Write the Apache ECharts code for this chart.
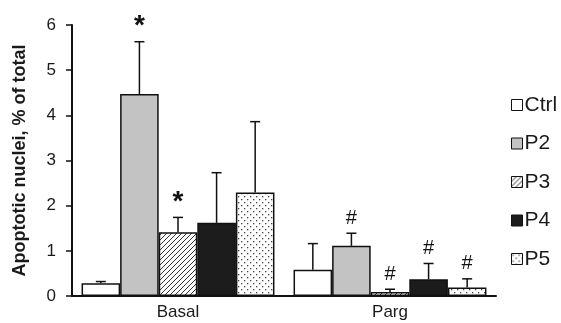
<!DOCTYPE html>
<html><head><meta charset="utf-8">
<script src="https://cdn.jsdelivr.net/npm/echarts@6/dist/echarts.min.js"></script>
<style>html,body{margin:0;padding:0;background:#fff}#c{width:561px;height:323px}</style>
</head><body><div id="c"></div>
<script>
// ---- data ----
const categories = ['Basal', 'Parg'];
const seriesNames = ['Ctrl', 'P2', 'P3', 'P4', 'P5'];
const ctrlMean = [0.28, 0.58];
const p2Mean   = [4.47, 1.11];
const p3Mean   = [1.41, 0.09];
const p4Mean   = [1.62, 0.37];
const p5Mean   = [2.29, 0.19];
const ctrlErr = [0.04, 0.58];
const p2Err   = [1.16, 0.28];
const p3Err   = [0.33, 0.06];
const p4Err   = [1.11, 0.35];
const p5Err   = [1.57, 0.19];
const ctrlMark = ['', ''];
const p2Mark   = ['*', '#'];
const p3Mark   = ['*', '#'];
const p4Mark   = ['', '#'];
const p5Mark   = ['', '#'];
const yTicks = [0, 1, 2, 3, 4, 5, 6];

const means = [ctrlMean, p2Mean, p3Mean, p4Mean, p5Mean];
const errs = [ctrlErr, p2Err, p3Err, p4Err, p5Err];
const marks = [ctrlMark, p2Mark, p3Mark, p4Mark, p5Mark];

// ---- patterns ----
function hatchPattern() {
  const c = document.createElement('canvas'); c.width = 5; c.height = 5;
  const g = c.getContext('2d');
  g.fillStyle = '#fff'; g.fillRect(0, 0, 5, 5);
  g.strokeStyle = '#333'; g.lineWidth = 1;
  g.beginPath();
  g.moveTo(-1, 6); g.lineTo(6, -1);
  g.moveTo(-1, 1); g.lineTo(1, -1);
  g.moveTo(4, 6); g.lineTo(6, 4);
  g.stroke();
  return c;
}
function dotPattern() {
  const c = document.createElement('canvas'); c.width = 6; c.height = 6;
  const g = c.getContext('2d');
  g.fillStyle = '#fff'; g.fillRect(0, 0, 6, 6);
  g.fillStyle = '#444';
  g.fillRect(1, 1, 1.3, 1.3);
  g.fillRect(4, 4, 1.3, 1.3);
  return c;
}
const fills = [
  '#ffffff',
  '#c3c3c3',
  { image: hatchPattern(), repeat: 'repeat' },
  '#1c1c1c',
  { image: dotPattern(), repeat: 'repeat' }
];

const GAP = 0.09;
const FONT = '"Liberation Sans", Arial, sans-serif';
const barSeries = seriesNames.map((name, i) => ({
  name: name,
  type: 'bar',
  data: means[i],
  barGap: 0,
  barCategoryGap: (GAP * 100) + '%',
  itemStyle: { color: fills[i], borderColor: '#111', borderWidth: 1.5 },
  emphasis: { disabled: true },
  z: 2
}));

const errData = [];
seriesNames.forEach((n, s) => {
  categories.forEach((c, k) => {
    errData.push([k, s, means[s][k], errs[s][k], marks[s][k]]);
  });
});

const errSeries = {
  type: 'custom',
  name: 'err',
  data: errData,
  encode: { x: 0, y: 2 },
  z: 5,
  silent: true,
  renderItem: function (params, api) {
    const cat = api.value(0), s = api.value(1), m = api.value(2), e = api.value(3);
    const mark = errData[params.dataIndex][4];
    const catW = api.size([1, 0])[0];
    const groupW = catW * (1 - GAP);
    const bw = groupW / 5;
    const cx = api.coord([cat, 0])[0] - groupW / 2 + bw * (s + 0.5);
    const y0 = api.coord([cat, m])[1];
    const y1 = api.coord([cat, m + e])[1];
    const st = { stroke: '#111', lineWidth: 1.5 };
    const children = [
      { type: 'line', shape: { x1: cx, y1: y0, x2: cx, y2: y1 }, style: st },
      { type: 'line', shape: { x1: cx - 5, y1: y1, x2: cx + 5, y2: y1 }, style: st }
    ];
    if (mark) {
      const isStar = mark === '*';
      children.push({
        type: 'text',
        style: {
          text: mark, x: cx, y: isStar ? y1 - 1 : y1 - 5,
          align: 'center', verticalAlign: 'bottom',
          fill: '#111',
          font: isStar ? 'bold 28px ' + FONT : '20px ' + FONT
        }
      });
    }
    return { type: 'group', children: children };
  }
};

const chart = echarts.init(document.getElementById('c'), null, { renderer: 'canvas' });
chart.setOption({
  animation: false,
  backgroundColor: '#fff',
  textStyle: { fontFamily: FONT, color: '#1a1a1a' },
  grid: { left: 72, right: 65, top: 25, bottom: 27, containLabel: false },
  legend: {
    data: seriesNames,
    orient: 'vertical',
    left: 506, top: 89,
    itemWidth: 11, itemHeight: 11, itemGap: 16.5,
    icon: 'rect',
    selectedMode: false,
    textStyle: { fontSize: 21, color: '#1a1a1a', padding: [0, 0, 0, -3], lineHeight: 22 },
    itemStyle: { borderColor: '#111', borderWidth: 1 }
  },
  xAxis: {
    type: 'category',
    data: categories,
    axisLine: { lineStyle: { color: '#111', width: 2 } },
    axisTick: { show: false },
    axisLabel: { fontSize: 17, color: '#1a1a1a', margin: 8 }
  },
  yAxis: {
    type: 'value',
    min: yTicks[0], max: yTicks[yTicks.length - 1], interval: 1,
    name: 'Apoptotic nuclei, % of total',
    nameLocation: 'middle',
    nameGap: 43,
    nameTextStyle: { fontSize: 18, fontWeight: 'bold', color: '#1a1a1a' },
    axisLine: { show: true, lineStyle: { color: '#111', width: 2 } },
    axisTick: { show: true, inside: false, length: 6, lineStyle: { color: '#111', width: 1.5 } },
    axisLabel: { fontSize: 17, color: '#1a1a1a', margin: 16 },
    splitLine: { show: false }
  },
  series: barSeries.concat([errSeries])
});
</script></body></html>
